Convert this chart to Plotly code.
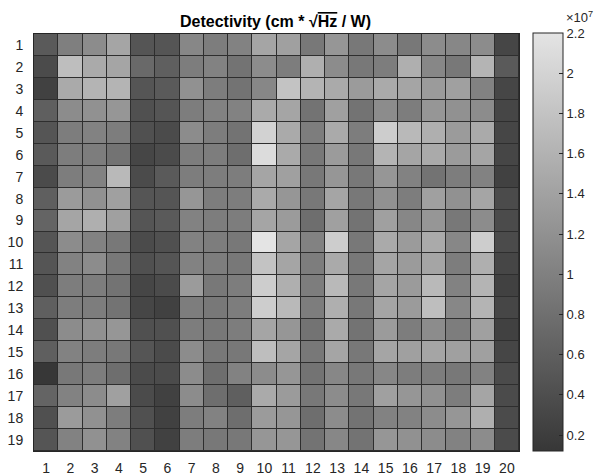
import plotly.graph_objects as go

# Detectivity values in units of 1e7 cm*sqrt(Hz)/W; rows 1..19, columns 1..20
columns = list(range(1, 21))
rows = list(range(1, 20))
row01 = [0.54, 0.98, 1.14, 1.44, 0.48, 0.48, 1.08, 0.96, 1.02, 1.44, 1.38, 0.90, 1.26, 0.90, 1.14, 0.90, 1.14, 1.08, 1.14, 0.30]
row02 = [0.36, 1.74, 1.50, 1.44, 0.72, 0.60, 0.96, 1.02, 0.84, 1.14, 0.96, 1.56, 1.14, 0.90, 0.96, 1.56, 1.08, 0.90, 1.62, 0.54]
row03 = [0.24, 1.50, 1.62, 1.62, 0.48, 0.54, 1.20, 0.96, 0.84, 1.08, 1.80, 1.62, 1.50, 1.32, 1.50, 1.44, 1.32, 1.38, 1.02, 0.30]
row04 = [0.60, 1.14, 1.20, 1.26, 0.42, 0.48, 0.96, 1.02, 1.02, 1.50, 1.44, 0.84, 1.38, 0.84, 1.14, 0.96, 1.26, 1.20, 1.14, 0.30]
row05 = [0.48, 0.96, 1.02, 0.96, 0.42, 0.36, 1.14, 0.96, 0.84, 1.98, 1.50, 0.96, 1.50, 0.96, 1.92, 1.68, 1.56, 1.32, 1.50, 0.30]
row06 = [0.54, 0.96, 0.96, 0.84, 0.30, 0.36, 0.96, 0.96, 0.78, 2.10, 1.50, 0.90, 1.32, 0.90, 1.62, 1.44, 1.50, 1.32, 1.44, 0.30]
row07 = [0.36, 0.96, 1.02, 1.68, 0.36, 0.54, 0.96, 0.96, 0.96, 1.44, 1.38, 0.90, 1.26, 0.90, 1.26, 1.02, 0.84, 0.96, 1.02, 0.24]
row08 = [0.60, 1.32, 1.20, 1.38, 0.48, 0.48, 1.26, 0.96, 0.96, 1.50, 1.26, 0.90, 1.44, 0.90, 1.20, 0.96, 1.38, 1.20, 1.44, 0.36]
row09 = [0.66, 1.44, 1.56, 1.38, 0.48, 0.54, 1.02, 0.96, 0.96, 1.44, 1.32, 0.78, 1.38, 0.84, 1.38, 1.08, 1.26, 0.90, 1.14, 0.36]
row10 = [0.48, 1.14, 1.02, 0.90, 0.36, 0.42, 1.02, 0.96, 0.90, 2.20, 1.44, 1.02, 1.92, 0.90, 1.50, 1.32, 1.50, 1.08, 1.92, 0.36]
row11 = [0.48, 1.02, 1.14, 0.90, 0.42, 0.48, 1.02, 0.96, 0.90, 1.80, 1.44, 0.96, 1.50, 0.90, 1.44, 1.32, 1.44, 0.96, 1.56, 0.30]
row12 = [0.42, 0.96, 0.96, 0.84, 0.30, 0.36, 1.32, 0.90, 0.96, 1.92, 1.56, 0.96, 1.68, 0.90, 1.44, 1.32, 1.68, 1.02, 1.62, 0.24]
row13 = [0.60, 0.96, 0.96, 0.84, 0.30, 0.24, 0.96, 0.90, 0.96, 1.92, 1.68, 0.96, 1.56, 0.90, 1.44, 1.32, 1.74, 1.08, 1.62, 0.30]
row14 = [0.42, 1.14, 1.20, 1.26, 0.42, 0.42, 0.96, 0.90, 0.96, 1.44, 1.26, 0.84, 1.50, 0.84, 1.32, 0.96, 1.14, 0.96, 1.38, 0.24]
row15 = [0.60, 1.02, 0.96, 0.90, 0.48, 0.36, 1.14, 0.90, 0.90, 1.74, 1.44, 0.90, 1.44, 0.90, 1.44, 1.38, 1.44, 1.38, 1.38, 0.30]
row16 = [0.12, 0.90, 0.96, 0.78, 0.36, 0.36, 1.14, 0.78, 1.02, 1.14, 1.26, 0.84, 1.08, 0.90, 1.08, 0.96, 0.96, 0.90, 1.02, 0.36]
row17 = [0.66, 1.02, 1.14, 1.38, 0.36, 0.24, 1.14, 0.78, 0.60, 1.50, 1.32, 0.90, 1.14, 0.90, 1.38, 1.26, 1.20, 0.96, 1.44, 0.36]
row18 = [0.42, 1.32, 1.20, 0.96, 0.42, 0.24, 0.96, 1.02, 0.78, 1.32, 1.26, 0.78, 1.14, 0.84, 1.02, 1.02, 1.14, 1.26, 1.56, 0.36]
row19 = [0.48, 1.02, 1.20, 1.02, 0.42, 0.24, 0.96, 0.90, 0.90, 1.26, 1.26, 0.84, 1.08, 0.84, 1.26, 1.20, 1.14, 1.02, 1.14, 0.36]
z = [row01, row02, row03, row04, row05, row06, row07, row08, row09, row10,
     row11, row12, row13, row14, row15, row16, row17, row18, row19]
cbar_ticks = [0.2, 0.4, 0.6, 0.8, 1.0, 1.2, 1.4, 1.6, 1.8, 2.0, 2.2]
cbar_labels = ["0.2", "0.4", "0.6", "0.8", "1", "1.2", "1.4", "1.6", "1.8", "2", "2.2"]

FONT = "Liberation Sans, Arial, sans-serif"
TXT = "#262626"

fig = go.Figure(go.Heatmap(
    x=columns, y=rows, z=z,
    zmin=0.12, zmax=2.2,
    colorscale=[[0, "rgb(55,55,55)"], [1, "rgb(228,228,228)"]],
    xgap=1, ygap=1,
    colorbar=dict(
        x=1.029, xanchor="left", xref="paper", xpad=0, ypad=0,
        y=0.501, yanchor="middle", len=418, lenmode="pixels",
        thickness=30, outlinecolor="#262626", outlinewidth=1,
        tickvals=cbar_ticks, ticktext=cbar_labels,
        ticks="inside", ticklen=4, tickcolor="#262626",
        tickfont=dict(family=FONT, size=13, color=TXT),
    ),
))

fig.update_layout(
    width=597, height=476,
    margin=dict(l=34, r=78, t=34, b=25, autoexpand=False),
    paper_bgcolor="white",
    plot_bgcolor="#2e2e2e",
    title=dict(
        text="<b>Detectivity (cm * √<span style='text-decoration:overline'>Hz</span> / W)</b>",
        x=0.4615, xanchor="center", xref="container",
        y=0.955, yanchor="middle", yref="container",
        font=dict(family=FONT, size=16, color="#000000"),
    ),
    xaxis=dict(
        tickmode="array", tickvals=columns, ticktext=[str(c) for c in columns],
        range=[0.5, 20.5], showgrid=False, zeroline=False,
        showline=True, linecolor="#262626", linewidth=1, mirror=True,
        ticks="", ticklabelstandoff=4, automargin=False,
        tickfont=dict(family=FONT, size=14, color=TXT),
    ),
    yaxis=dict(
        tickmode="array", tickvals=rows, ticktext=[str(r) for r in rows],
        range=[19.5, 0.5], showgrid=False, zeroline=False,
        showline=True, linecolor="#262626", linewidth=1, mirror=True,
        ticks="", ticklabelstandoff=7, automargin=False,
        tickfont=dict(family=FONT, size=14, color=TXT),
    ),
    annotations=[dict(
        text="×10<sup>7</sup>", xref="paper", yref="paper",
        x=1.093, y=1.04, xanchor="left", yanchor="middle",
        showarrow=False, font=dict(family=FONT, size=13, color=TXT),
    )],
)

fig.write_html("out.html")
